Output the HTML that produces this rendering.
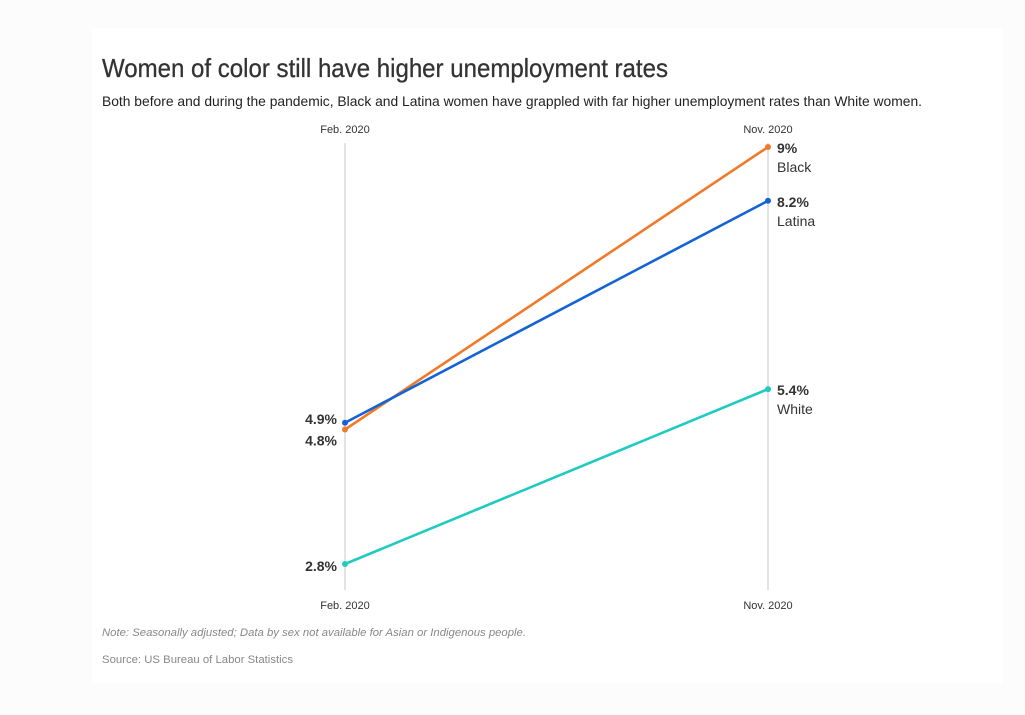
<!DOCTYPE html>
<html><head><meta charset="utf-8"><style>
html,body{margin:0;padding:0;background:#fcfcfc;}
svg{display:block;font-family:"Liberation Sans",sans-serif;}
</style></head><body>
<svg width="1025" height="715" viewBox="0 0 1025 715">
<rect x="92" y="28" width="910" height="655" fill="#fff"/>
<text x="102" y="77" font-size="26" fill="#333" stroke="#333" stroke-width="0.3" textLength="566" lengthAdjust="spacingAndGlyphs">Women of color still have higher unemployment rates</text>
<text x="102" y="106" font-size="14" fill="#222" textLength="820" lengthAdjust="spacingAndGlyphs">Both before and during the pandemic, Black and Latina women have grappled with far higher unemployment rates than White women.</text>
<g id="chart"></g>
<text x="102" y="636" font-size="11" font-style="italic" fill="#888" textLength="424" lengthAdjust="spacingAndGlyphs">Note: Seasonally adjusted; Data by sex not available for Asian or Indigenous people.</text>
<text x="102" y="663" font-size="11" fill="#888" textLength="191" lengthAdjust="spacingAndGlyphs">Source: US Bureau of Labor Statistics</text>
</svg>
<script>
const periods = ["Feb. 2020", "Nov. 2020"];
const seriesNames = ["Black", "Latina", "White"];
const febValues = [4.8, 4.9, 2.8];
const novValues = [9, 8.2, 5.4];
const seriesColors = ["#f07a2a", "#1463d6", "#1fcbc1"];
const novLabels = ["9%", "8.2%", "5.4%"];
const febLabels = ["4.8%", "4.9%", "2.8%"];

const NS = "http://www.w3.org/2000/svg";
const g = document.getElementById("chart");
const xPos = i => 345 + i * 423;
const y = v => 564 - (v - 2.8) * (417 / 6.2);
function mk(tag, attrs, txt){const e=document.createElementNS(NS,tag);for(const k in attrs)e.setAttribute(k,attrs[k]);if(txt!==undefined)e.textContent=txt;g.appendChild(e);return e;}

periods.forEach((p,i)=>{
  const l = mk("line",{x1:xPos(i),x2:xPos(i),y1:143,y2:590,stroke:"#c8c8c8","stroke-width":1});
  
  
  const t1 = mk("text",{x:xPos(i),y:133,"font-size":11,fill:"#333","text-anchor":"middle"},p);
  
  
  const t2 = mk("text",{x:xPos(i),y:609,"font-size":11,fill:"#333","text-anchor":"middle"},p);
  
  
});

seriesNames.forEach((n,i)=>{
  const ln = mk("line",{x1:xPos(0),y1:y(febValues[i]),x2:xPos(1),y2:y(novValues[i]),stroke:seriesColors[i],"stroke-width":2.6});
  
  
  [febValues[i], novValues[i]].forEach((v,j)=>{
    const c = mk("circle",{cx:xPos(j),cy:y(v),r:3,fill:seriesColors[i]});
    
    
  });
  const vy = y(novValues[i]);
  const lv = mk("text",{x:777,y:vy+6,"font-size":14,"font-weight":"bold",fill:"#333"},novLabels[i]);
  
  
  const ls = mk("text",{x:777,y:vy+25,"font-size":14,fill:"#333"},n);
  
  
});

const febOffsets = [15, 0, 6];
seriesNames.forEach((n,i)=>{
  const t = mk("text",{x:337,y:y(febValues[i])+febOffsets[i]+1,"font-size":14,"font-weight":"bold",fill:"#333","text-anchor":"end"},febLabels[i]);
  
  
});
</script>
</body></html>
